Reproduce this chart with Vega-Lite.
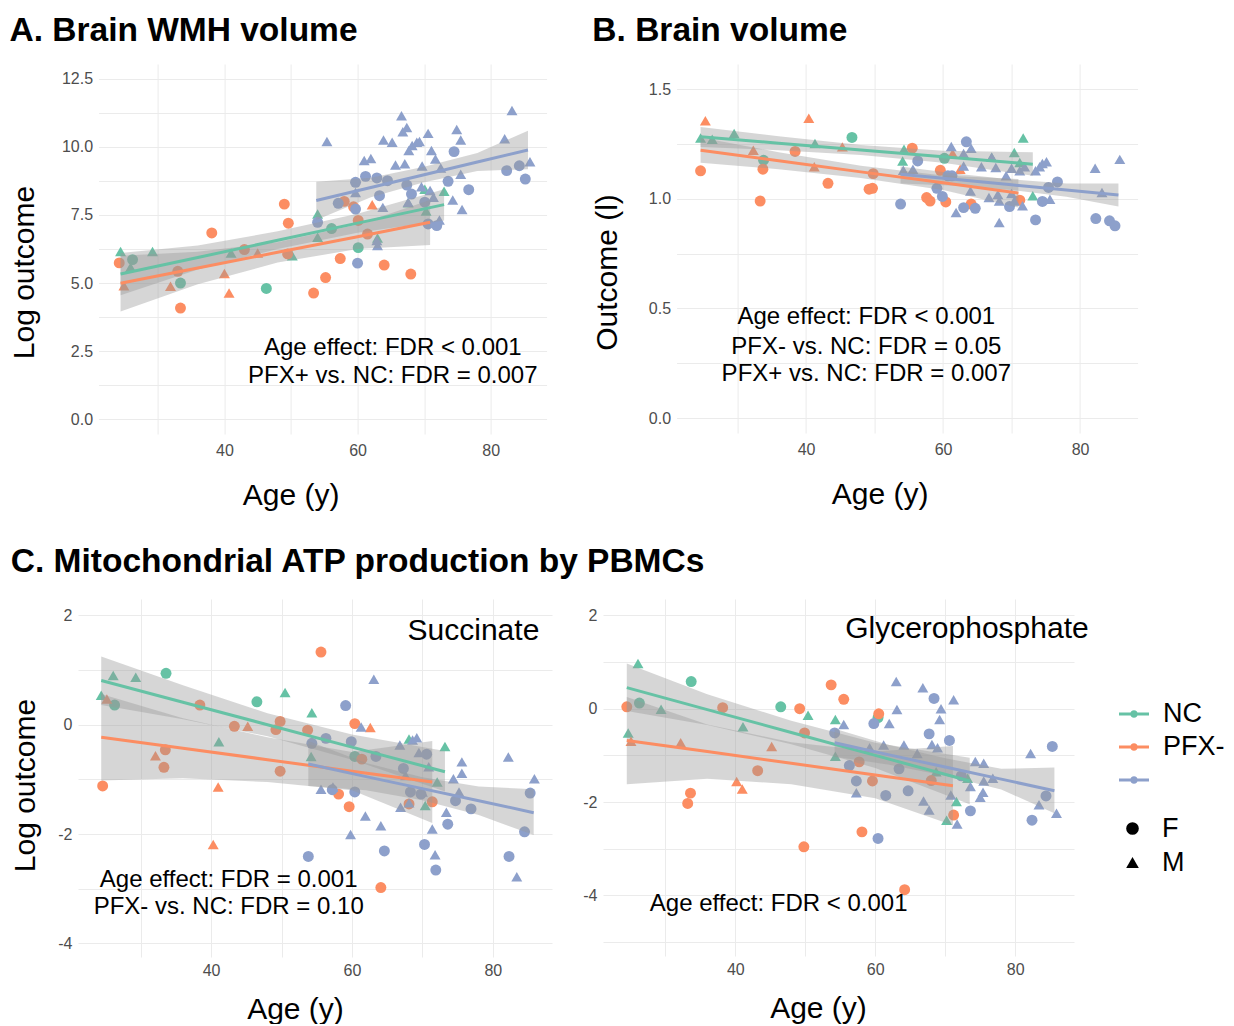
{
  "$schema": "https://vega.github.io/schema/vega-lite/v6.json",
  "background": "white",
  "padding": {"left": 9, "top": 13, "right": 0, "bottom": 0},
  "config": {
    "font": "Liberation Sans",
    "view": {"stroke": null},
    "axis": {"grid": true, "gridColor": "#EBEBEB", "gridWidth": 1, "domain": false, "ticks": false, "labelColor": "#4D4D4D", "labelFontSize": 16, "labelFont": "Liberation Sans", "titleFont": "Liberation Sans", "titleFontSize": 30, "titleFontWeight": "normal", "titleColor": "black", "labelOverlap": false},
    "axisX": {"labelPadding": 8, "titlePadding": 22},
    "axisY": {"labelPadding": 6, "titlePadding": 22},
    "title": {"font": "Liberation Sans", "fontSize": 33.5, "fontWeight": "bold", "anchor": "start", "frame": "bounds", "color": "black"},
    "legend": {"padding": 0, "labelFont": "Liberation Sans"}
  },
  "datasets": {
    "A_p": [
      {"group":"NC","sex":"M","age":24.4,"v":6.16},{"group":"NC","sex":"F","age":26.2,"v":5.86},{"group":"NC","sex":"M","age":25.9,"v":5.58},{"group":"NC","sex":"M","age":29.2,"v":6.16},{"group":"NC","sex":"F","age":33.4,"v":5.0},{"group":"NC","sex":"M","age":41.0,"v":6.1},{"group":"NC","sex":"F","age":46.3,"v":4.8},{"group":"NC","sex":"M","age":50.2,"v":6.0},{"group":"NC","sex":"M","age":54.0,"v":6.68},{"group":"NC","sex":"M","age":54.0,"v":7.54},{"group":"NC","sex":"F","age":56.1,"v":7.0},{"group":"NC","sex":"F","age":60.1,"v":6.3},{"group":"NC","sex":"M","age":63.0,"v":6.65},{"group":"NC","sex":"M","age":67.6,"v":7.95},{"group":"NC","sex":"M","age":70.1,"v":8.45},{"group":"NC","sex":"M","age":70.3,"v":7.65},{"group":"NC","sex":"M","age":73.0,"v":8.37},
      {"group":"PFX-","sex":"F","age":24.2,"v":5.74},{"group":"PFX-","sex":"M","age":24.9,"v":4.9},{"group":"PFX-","sex":"M","age":31.9,"v":4.88},{"group":"PFX-","sex":"F","age":33.0,"v":5.43},{"group":"PFX-","sex":"F","age":33.4,"v":4.08},{"group":"PFX-","sex":"F","age":38.1,"v":6.84},{"group":"PFX-","sex":"M","age":40.0,"v":5.35},{"group":"PFX-","sex":"M","age":40.7,"v":4.63},{"group":"PFX-","sex":"F","age":43.0,"v":6.23},{"group":"PFX-","sex":"M","age":45.0,"v":6.1},{"group":"PFX-","sex":"F","age":49.0,"v":7.9},{"group":"PFX-","sex":"F","age":49.6,"v":7.2},{"group":"PFX-","sex":"F","age":49.5,"v":6.07},{"group":"PFX-","sex":"F","age":53.4,"v":4.63},{"group":"PFX-","sex":"F","age":55.2,"v":5.2},{"group":"PFX-","sex":"F","age":57.4,"v":5.9},{"group":"PFX-","sex":"F","age":58.0,"v":8.0},{"group":"PFX-","sex":"F","age":59.4,"v":7.8},{"group":"PFX-","sex":"F","age":60.1,"v":7.3},{"group":"PFX-","sex":"F","age":61.5,"v":6.8},{"group":"PFX-","sex":"M","age":62.2,"v":7.88},{"group":"PFX-","sex":"F","age":64.0,"v":5.66},{"group":"PFX-","sex":"F","age":68.0,"v":5.33},
      {"group":"PFX+","sex":"M","age":55.4,"v":10.2},{"group":"PFX+","sex":"M","age":61.0,"v":9.5},{"group":"PFX+","sex":"M","age":62.0,"v":9.58},{"group":"PFX+","sex":"M","age":63.9,"v":10.26},{"group":"PFX+","sex":"M","age":65.2,"v":10.17},{"group":"PFX+","sex":"M","age":65.7,"v":9.34},{"group":"PFX+","sex":"M","age":66.6,"v":11.15},{"group":"PFX+","sex":"M","age":66.8,"v":10.56},{"group":"PFX+","sex":"M","age":67.4,"v":10.72},{"group":"PFX+","sex":"M","age":67.1,"v":9.38},{"group":"PFX+","sex":"M","age":67.7,"v":9.87},{"group":"PFX+","sex":"M","age":68.2,"v":10.05},{"group":"PFX+","sex":"M","age":68.9,"v":10.17},{"group":"PFX+","sex":"M","age":69.3,"v":10.2},{"group":"PFX+","sex":"M","age":69.7,"v":9.3},{"group":"PFX+","sex":"M","age":70.6,"v":10.5},{"group":"PFX+","sex":"M","age":71.1,"v":9.87},{"group":"PFX+","sex":"M","age":71.7,"v":9.56},{"group":"PFX+","sex":"M","age":72.5,"v":9.23},{"group":"PFX+","sex":"M","age":74.9,"v":10.64},{"group":"PFX+","sex":"M","age":75.5,"v":10.26},{"group":"PFX+","sex":"M","age":75.5,"v":9.0},{"group":"PFX+","sex":"M","age":75.7,"v":7.7},{"group":"PFX+","sex":"M","age":74.3,"v":8.05},{"group":"PFX+","sex":"M","age":70.9,"v":8.4},{"group":"PFX+","sex":"M","age":71.4,"v":8.15},{"group":"PFX+","sex":"M","age":83.2,"v":11.34},{"group":"PFX+","sex":"M","age":82.1,"v":10.3},{"group":"PFX+","sex":"M","age":85.9,"v":9.46},{"group":"PFX+","sex":"M","age":59.7,"v":8.33},{"group":"PFX+","sex":"M","age":62.9,"v":6.56},{"group":"PFX+","sex":"M","age":63.0,"v":6.38},{"group":"PFX+","sex":"M","age":63.8,"v":7.78},{"group":"PFX+","sex":"M","age":67.6,"v":7.97},{"group":"PFX+","sex":"M","age":69.6,"v":8.54},{"group":"PFX+","sex":"M","age":72.3,"v":7.32},
      {"group":"PFX+","sex":"F","age":59.7,"v":8.7},{"group":"PFX+","sex":"F","age":61.2,"v":8.92},{"group":"PFX+","sex":"F","age":62.9,"v":8.86},{"group":"PFX+","sex":"F","age":64.5,"v":8.76},{"group":"PFX+","sex":"F","age":63.3,"v":8.21},{"group":"PFX+","sex":"F","age":57.1,"v":7.93},{"group":"PFX+","sex":"F","age":59.7,"v":7.72},{"group":"PFX+","sex":"F","age":54.0,"v":7.23},{"group":"PFX+","sex":"F","age":60.0,"v":5.73},{"group":"PFX+","sex":"F","age":67.4,"v":8.6},{"group":"PFX+","sex":"F","age":68.1,"v":8.27},{"group":"PFX+","sex":"F","age":70.1,"v":7.97},{"group":"PFX+","sex":"F","age":70.6,"v":7.17},{"group":"PFX+","sex":"F","age":71.9,"v":7.11},{"group":"PFX+","sex":"F","age":73.6,"v":8.74},{"group":"PFX+","sex":"F","age":74.5,"v":9.83},{"group":"PFX+","sex":"F","age":76.7,"v":8.43},{"group":"PFX+","sex":"F","age":82.4,"v":9.13},{"group":"PFX+","sex":"F","age":84.3,"v":9.31},{"group":"PFX+","sex":"F","age":85.2,"v":8.82}
    ],
    "A_f": [
      {"group":"NC","age":24.4,"v":5.33,"lo":4.55,"hi":6.1},{"group":"NC","age":36,"v":5.94,"lo":5.5,"hi":6.38},{"group":"NC","age":48,"v":6.57,"lo":6.25,"hi":6.9},{"group":"NC","age":60,"v":7.2,"lo":6.85,"hi":7.55},{"group":"NC","age":73,"v":7.88,"lo":7.3,"hi":8.45},
      {"group":"PFX-","age":24.4,"v":4.99,"lo":3.95,"hi":6.0},{"group":"PFX-","age":36,"v":5.55,"lo":4.95,"hi":6.15},{"group":"PFX-","age":48,"v":6.13,"lo":5.75,"hi":6.5},{"group":"PFX-","age":60,"v":6.7,"lo":6.25,"hi":7.15},{"group":"PFX-","age":70.9,"v":7.23,"lo":6.4,"hi":8.05},
      {"group":"PFX+","age":53.8,"v":8.03,"lo":7.32,"hi":8.72},{"group":"PFX+","age":62,"v":8.51,"lo":8.15,"hi":8.87},{"group":"PFX+","age":70,"v":8.98,"lo":8.7,"hi":9.27},{"group":"PFX+","age":78,"v":9.45,"lo":9.12,"hi":9.78},{"group":"PFX+","age":85.6,"v":9.89,"lo":9.18,"hi":10.6}
    ],
    "A_t": [
      {"age":65.3,"v":2.62,"label":"Age effect: FDR < 0.001"},
      {"age":65.3,"v":1.6,"label":"PFX+ vs. NC: FDR = 0.007"}
    ],
    "B_p": [
      {"group":"NC","sex":"M","age":24.6,"v":1.277},{"group":"NC","sex":"M","age":26.3,"v":1.272},{"group":"NC","sex":"M","age":29.5,"v":1.298},{"group":"NC","sex":"F","age":46.7,"v":1.28},{"group":"NC","sex":"M","age":41.3,"v":1.252},{"group":"NC","sex":"M","age":54.3,"v":1.226},{"group":"NC","sex":"M","age":54.1,"v":1.173},{"group":"NC","sex":"F","age":60.2,"v":1.185},{"group":"NC","sex":"M","age":71.7,"v":1.277},{"group":"NC","sex":"M","age":70.4,"v":1.211},{"group":"NC","sex":"M","age":71.2,"v":1.166},{"group":"NC","sex":"M","age":73.1,"v":1.014},{"group":"NC","sex":"F","age":33.8,"v":1.176},{"group":"NC","sex":"M","age":67.1,"v":1.19},
      {"group":"PFX-","sex":"M","age":25.3,"v":1.356},{"group":"PFX-","sex":"F","age":24.6,"v":1.128},{"group":"PFX-","sex":"M","age":32.3,"v":1.222},{"group":"PFX-","sex":"F","age":33.7,"v":1.135},{"group":"PFX-","sex":"F","age":33.3,"v":0.99},{"group":"PFX-","sex":"F","age":38.4,"v":1.216},{"group":"PFX-","sex":"M","age":40.4,"v":1.368},{"group":"PFX-","sex":"M","age":41.2,"v":1.146},{"group":"PFX-","sex":"F","age":43.2,"v":1.071},{"group":"PFX-","sex":"M","age":45.3,"v":1.237},{"group":"PFX-","sex":"F","age":49.2,"v":1.044},{"group":"PFX-","sex":"F","age":49.7,"v":1.048},{"group":"PFX-","sex":"F","age":49.8,"v":1.115},{"group":"PFX-","sex":"F","age":55.5,"v":1.231},{"group":"PFX-","sex":"F","age":57.6,"v":1.006},{"group":"PFX-","sex":"F","age":58.1,"v":0.99},{"group":"PFX-","sex":"F","age":59.6,"v":1.13},{"group":"PFX-","sex":"F","age":60.4,"v":0.986},{"group":"PFX-","sex":"M","age":61.4,"v":1.207},{"group":"PFX-","sex":"M","age":62.5,"v":1.135},{"group":"PFX-","sex":"F","age":64.1,"v":0.976},{"group":"PFX-","sex":"F","age":71.2,"v":0.994},
      {"group":"PFX+","sex":"M","age":61.2,"v":1.239},{"group":"PFX+","sex":"M","age":61.9,"v":0.938},{"group":"PFX+","sex":"M","age":63.0,"v":1.207},{"group":"PFX+","sex":"M","age":64.1,"v":1.231},{"group":"PFX+","sex":"M","age":63.0,"v":1.15},{"group":"PFX+","sex":"M","age":64.0,"v":1.036},{"group":"PFX+","sex":"M","age":65.6,"v":1.146},{"group":"PFX+","sex":"M","age":67.1,"v":1.19},{"group":"PFX+","sex":"M","age":66.7,"v":1.006},{"group":"PFX+","sex":"M","age":67.7,"v":1.143},{"group":"PFX+","sex":"M","age":68.2,"v":0.892},{"group":"PFX+","sex":"M","age":68.2,"v":0.99},{"group":"PFX+","sex":"M","age":68.0,"v":1.02},{"group":"PFX+","sex":"M","age":69.2,"v":1.105},{"group":"PFX+","sex":"M","age":70.0,"v":1.024},{"group":"PFX+","sex":"M","age":70.0,"v":1.14},{"group":"PFX+","sex":"M","age":70.4,"v":0.99},{"group":"PFX+","sex":"M","age":71.2,"v":1.128},{"group":"PFX+","sex":"M","age":71.6,"v":0.968},{"group":"PFX+","sex":"M","age":71.9,"v":1.146},{"group":"PFX+","sex":"M","age":73.5,"v":1.128},{"group":"PFX+","sex":"M","age":74.1,"v":1.146},{"group":"PFX+","sex":"M","age":74.5,"v":1.161},{"group":"PFX+","sex":"M","age":75.1,"v":1.169},{"group":"PFX+","sex":"M","age":75.6,"v":0.998},{"group":"PFX+","sex":"M","age":82.2,"v":1.14},{"group":"PFX+","sex":"M","age":83.2,"v":1.029},{"group":"PFX+","sex":"M","age":85.8,"v":1.18},{"group":"PFX+","sex":"M","age":54.2,"v":1.13},{"group":"PFX+","sex":"M","age":55.6,"v":1.135},
      {"group":"PFX+","sex":"F","age":53.8,"v":0.976},{"group":"PFX+","sex":"F","age":56.3,"v":1.173},{"group":"PFX+","sex":"F","age":59.1,"v":1.048},{"group":"PFX+","sex":"F","age":59.9,"v":1.011},{"group":"PFX+","sex":"F","age":60.7,"v":1.105},{"group":"PFX+","sex":"F","age":61.3,"v":1.105},{"group":"PFX+","sex":"F","age":63.0,"v":0.96},{"group":"PFX+","sex":"F","age":63.4,"v":1.26},{"group":"PFX+","sex":"F","age":64.7,"v":0.957},{"group":"PFX+","sex":"F","age":69.7,"v":0.965},{"group":"PFX+","sex":"F","age":73.5,"v":0.904},{"group":"PFX+","sex":"F","age":74.5,"v":0.988},{"group":"PFX+","sex":"F","age":75.4,"v":1.052},{"group":"PFX+","sex":"F","age":76.7,"v":1.077},{"group":"PFX+","sex":"F","age":82.3,"v":0.91},{"group":"PFX+","sex":"F","age":84.3,"v":0.9},{"group":"PFX+","sex":"F","age":85.1,"v":0.877}
    ],
    "B_f": [
      {"group":"NC","age":24.6,"v":1.283,"lo":1.237,"hi":1.328},{"group":"NC","age":36,"v":1.254,"lo":1.222,"hi":1.286},{"group":"NC","age":48,"v":1.223,"lo":1.2,"hi":1.246},{"group":"NC","age":60,"v":1.192,"lo":1.165,"hi":1.219},{"group":"NC","age":73.1,"v":1.158,"lo":1.105,"hi":1.212},
      {"group":"PFX-","age":24.6,"v":1.222,"lo":1.165,"hi":1.28},{"group":"PFX-","age":36,"v":1.174,"lo":1.135,"hi":1.213},{"group":"PFX-","age":48,"v":1.123,"lo":1.095,"hi":1.151},{"group":"PFX-","age":60,"v":1.073,"lo":1.04,"hi":1.106},{"group":"PFX-","age":71,"v":1.026,"lo":0.96,"hi":1.09},
      {"group":"PFX+","age":53.8,"v":1.112,"lo":1.07,"hi":1.148},{"group":"PFX+","age":62,"v":1.088,"lo":1.06,"hi":1.115},{"group":"PFX+","age":70,"v":1.064,"lo":1.04,"hi":1.088},{"group":"PFX+","age":78,"v":1.04,"lo":1.01,"hi":1.07},{"group":"PFX+","age":85.6,"v":1.018,"lo":0.965,"hi":1.07}
    ],
    "B_t": [
      {"age":48.8,"v":0.459,"label":"Age effect: FDR < 0.001"},
      {"age":48.8,"v":0.326,"label":"PFX- vs. NC: FDR = 0.05"},
      {"age":48.8,"v":0.2,"label":"PFX+ vs. NC: FDR = 0.007"}
    ],
    "C1_p": [
      {"group":"NC","sex":"M","age":24.4,"v":0.54},{"group":"NC","sex":"M","age":26.1,"v":0.9},{"group":"NC","sex":"F","age":26.3,"v":0.36},{"group":"NC","sex":"M","age":29.3,"v":0.87},{"group":"NC","sex":"F","age":33.6,"v":0.94},{"group":"NC","sex":"F","age":46.5,"v":0.42},{"group":"NC","sex":"M","age":50.5,"v":0.59},{"group":"NC","sex":"M","age":54.3,"v":0.22},{"group":"NC","sex":"M","age":41.1,"v":-0.31},{"group":"NC","sex":"M","age":54.2,"v":-0.58},{"group":"NC","sex":"M","age":68.1,"v":-0.26},{"group":"NC","sex":"M","age":73.2,"v":-0.4},{"group":"NC","sex":"M","age":70.4,"v":-1.48},{"group":"NC","sex":"M","age":72.1,"v":-1.05},{"group":"NC","sex":"F","age":60.4,"v":-0.58},
      {"group":"PFX-","sex":"M","age":25.2,"v":0.47},{"group":"PFX-","sex":"F","age":24.6,"v":-1.12},{"group":"PFX-","sex":"M","age":32.1,"v":-0.57},{"group":"PFX-","sex":"F","age":33.5,"v":-0.46},{"group":"PFX-","sex":"F","age":33.3,"v":-0.78},{"group":"PFX-","sex":"F","age":38.4,"v":0.36},{"group":"PFX-","sex":"M","age":40.3,"v":-2.19},{"group":"PFX-","sex":"M","age":41.0,"v":-1.14},{"group":"PFX-","sex":"F","age":43.3,"v":-0.03},{"group":"PFX-","sex":"M","age":45.2,"v":-0.03},{"group":"PFX-","sex":"F","age":49.2,"v":-0.09},{"group":"PFX-","sex":"F","age":49.8,"v":0.06},{"group":"PFX-","sex":"F","age":49.8,"v":-0.85},{"group":"PFX-","sex":"F","age":53.7,"v":-0.1},{"group":"PFX-","sex":"F","age":55.6,"v":1.33},{"group":"PFX-","sex":"F","age":60.4,"v":0.02},{"group":"PFX-","sex":"M","age":62.6,"v":-0.05},{"group":"PFX-","sex":"F","age":61.4,"v":-0.63},{"group":"PFX-","sex":"F","age":58.1,"v":-1.27},{"group":"PFX-","sex":"F","age":59.6,"v":-1.5},{"group":"PFX-","sex":"F","age":64.1,"v":-2.98},{"group":"PFX-","sex":"F","age":68.1,"v":-1.45},{"group":"PFX-","sex":"F","age":71.4,"v":-1.41},
      {"group":"PFX+","sex":"M","age":63.1,"v":0.83},{"group":"PFX+","sex":"M","age":61.3,"v":-0.04},{"group":"PFX+","sex":"M","age":55.6,"v":-1.18},{"group":"PFX+","sex":"M","age":57.3,"v":-1.14},{"group":"PFX+","sex":"M","age":59.8,"v":-2.01},{"group":"PFX+","sex":"M","age":61.9,"v":-1.67},{"group":"PFX+","sex":"M","age":64.1,"v":-1.85},{"group":"PFX+","sex":"M","age":66.8,"v":-0.37},{"group":"PFX+","sex":"M","age":67.6,"v":-0.93},{"group":"PFX+","sex":"M","age":68.6,"v":-0.28},{"group":"PFX+","sex":"M","age":69.2,"v":-0.24},{"group":"PFX+","sex":"M","age":69.5,"v":-0.51},{"group":"PFX+","sex":"M","age":70.0,"v":-1.23},{"group":"PFX+","sex":"M","age":66.9,"v":-1.51},{"group":"PFX+","sex":"M","age":68.1,"v":-1.43},{"group":"PFX+","sex":"M","age":71.4,"v":-1.91},{"group":"PFX+","sex":"M","age":71.8,"v":-2.38},{"group":"PFX+","sex":"M","age":74.4,"v":-0.99},{"group":"PFX+","sex":"M","age":75.2,"v":-1.23},{"group":"PFX+","sex":"M","age":75.6,"v":-0.68},{"group":"PFX+","sex":"M","age":75.6,"v":-0.89},{"group":"PFX+","sex":"M","age":73.4,"v":-1.6},{"group":"PFX+","sex":"M","age":82.2,"v":-0.59},{"group":"PFX+","sex":"M","age":83.4,"v":-2.78},{"group":"PFX+","sex":"M","age":85.9,"v":-0.99},{"group":"PFX+","sex":"M","age":70.9,"v":-0.77},
      {"group":"PFX+","sex":"F","age":59.1,"v":0.35},{"group":"PFX+","sex":"F","age":54.3,"v":-0.34},{"group":"PFX+","sex":"F","age":56.3,"v":-0.25},{"group":"PFX+","sex":"F","age":59.9,"v":-0.31},{"group":"PFX+","sex":"F","age":53.8,"v":-2.41},{"group":"PFX+","sex":"F","age":57.2,"v":-1.19},{"group":"PFX+","sex":"F","age":60.4,"v":-1.23},{"group":"PFX+","sex":"F","age":64.6,"v":-2.31},{"group":"PFX+","sex":"F","age":63.4,"v":-0.58},{"group":"PFX+","sex":"F","age":67.3,"v":-0.8},{"group":"PFX+","sex":"F","age":68.3,"v":-1.23},{"group":"PFX+","sex":"F","age":70.3,"v":-2.19},{"group":"PFX+","sex":"F","age":70.6,"v":-0.54},{"group":"PFX+","sex":"F","age":69.8,"v":-1.27},{"group":"PFX+","sex":"F","age":71.9,"v":-2.66},{"group":"PFX+","sex":"F","age":73.6,"v":-1.82},{"group":"PFX+","sex":"F","age":74.7,"v":-1.39},{"group":"PFX+","sex":"F","age":76.9,"v":-1.54},{"group":"PFX+","sex":"F","age":82.3,"v":-2.41},{"group":"PFX+","sex":"F","age":84.5,"v":-1.96},{"group":"PFX+","sex":"F","age":85.3,"v":-1.25}
    ],
    "C1_f": [
      {"group":"NC","age":24.4,"v":0.81,"lo":0.36,"hi":1.25},{"group":"NC","age":36,"v":0.41,"lo":0.1,"hi":0.72},{"group":"NC","age":48,"v":0.0,"lo":-0.21,"hi":0.21},{"group":"NC","age":60,"v":-0.41,"lo":-0.64,"hi":-0.18},{"group":"NC","age":73.2,"v":-0.86,"lo":-1.22,"hi":-0.48},
      {"group":"PFX-","age":24.4,"v":-0.23,"lo":-1.02,"hi":0.56},{"group":"PFX-","age":36,"v":-0.43,"lo":-0.98,"hi":0.12},{"group":"PFX-","age":48,"v":-0.64,"lo":-1.05,"hi":-0.23},{"group":"PFX-","age":60,"v":-0.85,"lo":-1.2,"hi":-0.5},{"group":"PFX-","age":71.4,"v":-1.05,"lo":-1.8,"hi":-0.3},
      {"group":"PFX+","age":53.8,"v":-0.72,"lo":-1.12,"hi":-0.3},{"group":"PFX+","age":62,"v":-0.95,"lo":-1.2,"hi":-0.7},{"group":"PFX+","age":70,"v":-1.17,"lo":-1.38,"hi":-0.96},{"group":"PFX+","age":78,"v":-1.39,"lo":-1.65,"hi":-1.13},{"group":"PFX+","age":85.8,"v":-1.61,"lo":-2.02,"hi":-1.18}
    ],
    "C1_t": [
      {"age":42.5,"v":-2.85,"label":"Age effect: FDR = 0.001"},
      {"age":42.5,"v":-3.34,"label":"PFX- vs. NC: FDR = 0.10"}
    ],
    "C1_h": [
      {"age":86.6,"v":1.72,"label":"Succinate"}
    ],
    "C2_p": [
      {"group":"NC","sex":"M","age":24.7,"v":-0.52},{"group":"NC","sex":"M","age":26.1,"v":0.97},{"group":"NC","sex":"F","age":26.3,"v":0.12},{"group":"NC","sex":"M","age":29.4,"v":-0.01},{"group":"NC","sex":"F","age":33.7,"v":0.58},{"group":"NC","sex":"M","age":41.1,"v":-0.39},{"group":"NC","sex":"F","age":46.5,"v":0.04},{"group":"NC","sex":"M","age":50.4,"v":-0.14},{"group":"NC","sex":"M","age":54.3,"v":-0.23},{"group":"NC","sex":"M","age":54.3,"v":-1.02},{"group":"NC","sex":"F","age":60.4,"v":-0.19},{"group":"NC","sex":"M","age":70.2,"v":-2.39},{"group":"NC","sex":"M","age":71.6,"v":-1.99},{"group":"NC","sex":"M","age":73.2,"v":-1.49},{"group":"NC","sex":"M","age":68.7,"v":-1.35},
      {"group":"PFX-","sex":"F","age":24.5,"v":0.04},{"group":"PFX-","sex":"M","age":25.1,"v":-0.7},{"group":"PFX-","sex":"M","age":32.2,"v":-0.73},{"group":"PFX-","sex":"F","age":33.6,"v":-1.81},{"group":"PFX-","sex":"F","age":33.2,"v":-2.03},{"group":"PFX-","sex":"F","age":38.2,"v":0.02},{"group":"PFX-","sex":"M","age":40.2,"v":-1.56},{"group":"PFX-","sex":"M","age":41.0,"v":-1.72},{"group":"PFX-","sex":"M","age":45.2,"v":-0.81},{"group":"PFX-","sex":"F","age":43.2,"v":-1.33},{"group":"PFX-","sex":"F","age":49.2,"v":0.0},{"group":"PFX-","sex":"F","age":49.9,"v":-0.52},{"group":"PFX-","sex":"F","age":49.8,"v":-2.96},{"group":"PFX-","sex":"F","age":53.7,"v":0.51},{"group":"PFX-","sex":"F","age":55.5,"v":0.2},{"group":"PFX-","sex":"F","age":57.7,"v":-1.14},{"group":"PFX-","sex":"F","age":58.1,"v":-2.64},{"group":"PFX-","sex":"F","age":59.6,"v":-1.55},{"group":"PFX-","sex":"F","age":60.5,"v":-0.11},{"group":"PFX-","sex":"F","age":64.2,"v":-3.88},{"group":"PFX-","sex":"F","age":68.0,"v":-1.54},{"group":"PFX-","sex":"F","age":71.2,"v":-2.28},
      {"group":"PFX+","sex":"M","age":63.0,"v":0.58},{"group":"PFX+","sex":"M","age":66.8,"v":0.45},{"group":"PFX+","sex":"M","age":71.2,"v":0.19},{"group":"PFX+","sex":"M","age":63.1,"v":-0.02},{"group":"PFX+","sex":"M","age":62.0,"v":-0.32},{"group":"PFX+","sex":"M","age":55.5,"v":-0.34},{"group":"PFX+","sex":"M","age":69.4,"v":0.0},{"group":"PFX+","sex":"M","age":69.2,"v":-0.23},{"group":"PFX+","sex":"M","age":61.2,"v":-0.78},{"group":"PFX+","sex":"M","age":64.1,"v":-0.78},{"group":"PFX+","sex":"M","age":66.0,"v":-0.96},{"group":"PFX+","sex":"M","age":68.1,"v":-0.77},{"group":"PFX+","sex":"M","age":68.9,"v":-0.84},{"group":"PFX+","sex":"M","age":59.2,"v":-0.84},{"group":"PFX+","sex":"M","age":57.3,"v":-1.8},{"group":"PFX+","sex":"M","age":66.9,"v":-1.98},{"group":"PFX+","sex":"M","age":67.7,"v":-2.17},{"group":"PFX+","sex":"M","age":70.8,"v":-1.85},{"group":"PFX+","sex":"M","age":71.7,"v":-2.47},{"group":"PFX+","sex":"M","age":73.6,"v":-1.67},{"group":"PFX+","sex":"M","age":74.3,"v":-1.13},{"group":"PFX+","sex":"M","age":75.5,"v":-1.17},{"group":"PFX+","sex":"M","age":75.5,"v":-1.55},{"group":"PFX+","sex":"M","age":75.4,"v":-1.79},{"group":"PFX+","sex":"M","age":75.0,"v":-1.9},{"group":"PFX+","sex":"M","age":82.2,"v":-0.96},{"group":"PFX+","sex":"M","age":83.4,"v":-2.06},{"group":"PFX+","sex":"M","age":85.9,"v":-2.24},{"group":"PFX+","sex":"M","age":76.8,"v":-1.49},
      {"group":"PFX+","sex":"F","age":54.2,"v":-0.52},{"group":"PFX+","sex":"F","age":59.8,"v":-0.32},{"group":"PFX+","sex":"F","age":56.3,"v":-1.22},{"group":"PFX+","sex":"F","age":57.3,"v":-1.55},{"group":"PFX+","sex":"F","age":61.5,"v":-1.86},{"group":"PFX+","sex":"F","age":60.4,"v":-2.78},{"group":"PFX+","sex":"F","age":63.4,"v":-1.29},{"group":"PFX+","sex":"F","age":64.7,"v":-1.76},{"group":"PFX+","sex":"F","age":67.7,"v":-0.54},{"group":"PFX+","sex":"F","age":68.4,"v":0.22},{"group":"PFX+","sex":"F","age":70.6,"v":-0.68},{"group":"PFX+","sex":"F","age":73.6,"v":-2.19},{"group":"PFX+","sex":"F","age":82.4,"v":-2.39},{"group":"PFX+","sex":"F","age":84.4,"v":-1.87},{"group":"PFX+","sex":"F","age":85.3,"v":-0.81},{"group":"PFX+","sex":"F","age":72.3,"v":-1.44}
    ],
    "C2_f": [
      {"group":"NC","age":24.5,"v":0.45,"lo":-0.05,"hi":0.97},{"group":"NC","age":36,"v":-0.02,"lo":-0.35,"hi":0.31},{"group":"NC","age":48,"v":-0.51,"lo":-0.76,"hi":-0.26},{"group":"NC","age":60,"v":-1.0,"lo":-1.27,"hi":-0.73},{"group":"NC","age":73.5,"v":-1.55,"lo":-2.05,"hi":-1.05},
      {"group":"PFX-","age":24.5,"v":-0.68,"lo":-1.62,"hi":0.25},{"group":"PFX-","age":36,"v":-0.92,"lo":-1.5,"hi":-0.34},{"group":"PFX-","age":48,"v":-1.17,"lo":-1.62,"hi":-0.72},{"group":"PFX-","age":60,"v":-1.42,"lo":-1.92,"hi":-0.92},{"group":"PFX-","age":71.1,"v":-1.65,"lo":-2.5,"hi":-0.8},
      {"group":"PFX+","age":54.2,"v":-0.73,"lo":-1.03,"hi":-0.43},{"group":"PFX+","age":62,"v":-0.99,"lo":-1.2,"hi":-0.78},{"group":"PFX+","age":70,"v":-1.25,"lo":-1.44,"hi":-1.06},{"group":"PFX+","age":78,"v":-1.51,"lo":-1.73,"hi":-1.29},{"group":"PFX+","age":85.6,"v":-1.76,"lo":-2.24,"hi":-1.26}
    ],
    "C2_t": [
      {"age":46.2,"v":-4.18,"label":"Age effect: FDR < 0.001"}
    ],
    "C2_h": [
      {"age":73.1,"v":1.71,"label":"Glycerophosphate"}
    ],
    "spacer": [{"label": ""}]
  },
  "concat": [
    {
      "hconcat": [
        {"width": 1, "height": 1, "data": {"name": "spacer"}, "mark": {"type": "text"}, "encoding": {"text": {"field": "label"}}},
        {
          "hconcat": [
            {
              "title": {"text": "A. Brain WMH volume", "offset": 16},
              "width": 448, "height": 370,
              "encoding": {
                "x": {"field": "age", "type": "quantitative", "scale": {"domain": [21.1, 88.4], "nice": false, "zero": false}, "axis": {"values": [30,40,50,60,70,80], "labelExpr": "datum.value % 20 == 0 ? datum.label : ''", "title": "Age (y)", "titleX": 192}},
                "y": {"field": "v", "type": "quantitative", "scale": {"domain": [-0.55, 13.05], "nice": false, "zero": false}, "axis": {"values": [0,1.25,2.5,3.75,5,6.25,7.5,8.75,10,11.25,12.5], "format": ".1f", "labelExpr": "datum.value % 2.5 == 0 ? datum.label : ''", "title": "Log outcome", "titleY": 208, "titlePadding": 22}}
              },
              "layer": [
                {"data": {"name": "A_p"}, "mark": {"type": "point", "filled": true, "opacity": 1, "size": 120},
                 "encoding": {
                   "color": {"field": "group", "type": "nominal", "scale": {"domain": ["NC","PFX-","PFX+"], "range": ["#66C2A5","#FC8D62","#8DA0CB"]}, "legend": {"orient": "none", "legendX": 1041, "legendY": 635, "title": null, "symbolType": "M-1,-0.1L1,-0.1L1,0.1L-1,0.1Z M-0.25,0 A0.25,0.25 0 1,1 0.25,0 A0.25,0.25 0 1,1 -0.25,0 Z", "symbolSize": 900, "symbolStrokeWidth": 0, "labelFontSize": 27, "labelColor": "black", "labelOffset": 14, "rowPadding": 5, "labelExpr": "datum.label == 'PFX+' ? '' : datum.label"}},
                   "shape": {"field": "sex", "type": "nominal", "scale": {"domain": ["F","M"], "range": ["circle","triangle-up"]}, "legend": {"orient": "none", "legendX": 1041, "legendY": 751, "title": null, "symbolSize": 160, "symbolFillColor": "black", "symbolStrokeColor": "black", "symbolStrokeWidth": 0, "labelFontSize": 27, "labelColor": "black", "labelOffset": 16, "rowPadding": 6}}}},
                {"data": {"name": "A_f"}, "mark": {"type": "area", "color": "#999999", "opacity": 0.4},
                 "encoding": {"y": {"field": "lo", "type": "quantitative", "scale": {"domain": [-0.55, 13.05], "nice": false, "zero": false}, "axis": {"values": [0,1.25,2.5,3.75,5,6.25,7.5,8.75,10,11.25,12.5], "format": ".1f", "labelExpr": "datum.value % 2.5 == 0 ? datum.label : ''", "title": "Log outcome", "titleY": 208, "titlePadding": 22}}, "y2": {"field": "hi"}, "detail": {"field": "group"}}},
                {"data": {"name": "A_f"}, "transform": [{"filter": "datum.group == 'NC'"}], "mark": {"type": "line", "strokeWidth": 3, "color": "#66C2A5"}, "encoding": {}},
                {"data": {"name": "A_f"}, "transform": [{"filter": "datum.group == 'PFX-'"}], "mark": {"type": "line", "strokeWidth": 3, "color": "#FC8D62"}, "encoding": {}},
                {"data": {"name": "A_f"}, "transform": [{"filter": "datum.group == 'PFX+'"}], "mark": {"type": "line", "strokeWidth": 3, "color": "#8DA0CB"}, "encoding": {}},
                {"data": {"name": "A_t"}, "mark": {"type": "text", "fontSize": 24, "font": "Liberation Sans", "color": "black", "align": "center", "baseline": "middle"},
                 "encoding": {"text": {"field": "label"}}}
              ]
            },
            {
              "title": {"text": "B. Brain volume", "offset": 16},
              "width": 461, "height": 369,
              "encoding": {
                "x": {"field": "age", "type": "quantitative", "scale": {"domain": [21.1, 88.4], "nice": false, "zero": false}, "axis": {"values": [30,40,50,60,70,80], "labelExpr": "datum.value % 20 == 0 ? datum.label : ''", "title": "Age (y)", "titleX": 203}},
                "y": {"field": "v", "type": "quantitative", "scale": {"domain": [-0.068, 1.615], "nice": false, "zero": false}, "axis": {"values": [0,0.25,0.5,0.75,1,1.25,1.5], "format": ".1f", "labelExpr": "datum.value % 0.5 == 0 ? datum.label : ''", "title": "Outcome (l)", "titleY": 208, "titlePadding": 26}}
              },
              "layer": [
                {"data": {"name": "B_p"}, "mark": {"type": "point", "filled": true, "opacity": 1, "size": 120},
                 "encoding": {
                   "color": {"field": "group", "type": "nominal", "scale": {"domain": ["NC","PFX-","PFX+"], "range": ["#66C2A5","#FC8D62","#8DA0CB"]}, "legend": {"orient": "none", "legendX": 1041, "legendY": 635, "title": null, "symbolType": "M-1,-0.1L1,-0.1L1,0.1L-1,0.1Z M-0.25,0 A0.25,0.25 0 1,1 0.25,0 A0.25,0.25 0 1,1 -0.25,0 Z", "symbolSize": 900, "symbolStrokeWidth": 0, "labelFontSize": 27, "labelColor": "black", "labelOffset": 14, "rowPadding": 5, "labelExpr": "datum.label == 'PFX+' ? '' : datum.label"}},
                   "shape": {"field": "sex", "type": "nominal", "scale": {"domain": ["F","M"], "range": ["circle","triangle-up"]}, "legend": {"orient": "none", "legendX": 1041, "legendY": 751, "title": null, "symbolSize": 160, "symbolFillColor": "black", "symbolStrokeColor": "black", "symbolStrokeWidth": 0, "labelFontSize": 27, "labelColor": "black", "labelOffset": 16, "rowPadding": 6}}}},
                {"data": {"name": "B_f"}, "mark": {"type": "area", "color": "#999999", "opacity": 0.4},
                 "encoding": {"y": {"field": "lo", "type": "quantitative", "scale": {"domain": [-0.068, 1.615], "nice": false, "zero": false}, "axis": {"values": [0,0.25,0.5,0.75,1,1.25,1.5], "format": ".1f", "labelExpr": "datum.value % 0.5 == 0 ? datum.label : ''", "title": "Outcome (l)", "titleY": 208, "titlePadding": 26}}, "y2": {"field": "hi"}, "detail": {"field": "group"}}},
                {"data": {"name": "B_f"}, "transform": [{"filter": "datum.group == 'NC'"}], "mark": {"type": "line", "strokeWidth": 3, "color": "#66C2A5"}, "encoding": {}},
                {"data": {"name": "B_f"}, "transform": [{"filter": "datum.group == 'PFX-'"}], "mark": {"type": "line", "strokeWidth": 3, "color": "#FC8D62"}, "encoding": {}},
                {"data": {"name": "B_f"}, "transform": [{"filter": "datum.group == 'PFX+'"}], "mark": {"type": "line", "strokeWidth": 3, "color": "#8DA0CB"}, "encoding": {}},
                {"data": {"name": "B_t"}, "mark": {"type": "text", "fontSize": 24, "font": "Liberation Sans", "color": "black", "align": "center", "baseline": "middle"},
                 "encoding": {"text": {"field": "label"}}}
              ]
            }
          ],
          "spacing": 45
        }
      ],
      "spacing": 19.6,
      "bounds": "flush"
    },
    {
      "title": {"text": "C. Mitochondrial ATP production by PBMCs", "offset": 20},
      "hconcat": [
        {
          "width": 474, "height": 358,
          "encoding": {
            "x": {"field": "age", "type": "quantitative", "scale": {"domain": [21.1, 88.4], "nice": false, "zero": false}, "axis": {"values": [30,40,50,60,70,80], "labelExpr": "datum.value % 20 == 0 ? datum.label : ''", "title": "Age (y)", "titleX": 217, "labelPadding": 5, "titlePadding": 16}},
            "y": {"field": "v", "type": "quantitative", "scale": {"domain": [-4.25, 2.3], "nice": false, "zero": false}, "axis": {"values": [-4,-3,-2,-1,0,1,2], "labelExpr": "datum.value % 2 == 0 ? '' + datum.value : ''", "title": "Log outcome", "titleY": 186, "titlePadding": 17}}
          },
          "layer": [
            {"data": {"name": "C1_p"}, "mark": {"type": "point", "filled": true, "opacity": 1, "size": 120},
             "encoding": {
               "color": {"field": "group", "type": "nominal", "scale": {"domain": ["NC","PFX-","PFX+"], "range": ["#66C2A5","#FC8D62","#8DA0CB"]}, "legend": {"orient": "none", "legendX": 1041, "legendY": 635, "title": null, "symbolType": "M-1,-0.1L1,-0.1L1,0.1L-1,0.1Z M-0.25,0 A0.25,0.25 0 1,1 0.25,0 A0.25,0.25 0 1,1 -0.25,0 Z", "symbolSize": 900, "symbolStrokeWidth": 0, "labelFontSize": 27, "labelColor": "black", "labelOffset": 14, "rowPadding": 5, "labelExpr": "datum.label == 'PFX+' ? '' : datum.label"}},
               "shape": {"field": "sex", "type": "nominal", "scale": {"domain": ["F","M"], "range": ["circle","triangle-up"]}, "legend": {"orient": "none", "legendX": 1041, "legendY": 751, "title": null, "symbolSize": 160, "symbolFillColor": "black", "symbolStrokeColor": "black", "symbolStrokeWidth": 0, "labelFontSize": 27, "labelColor": "black", "labelOffset": 16, "rowPadding": 6}}}},
            {"data": {"name": "C1_f"}, "mark": {"type": "area", "color": "#999999", "opacity": 0.4},
             "encoding": {"y": {"field": "lo", "type": "quantitative", "scale": {"domain": [-4.25, 2.3], "nice": false, "zero": false}, "axis": {"values": [-4,-3,-2,-1,0,1,2], "labelExpr": "datum.value % 2 == 0 ? '' + datum.value : ''", "title": "Log outcome", "titleY": 186, "titlePadding": 17}}, "y2": {"field": "hi"}, "detail": {"field": "group"}}},
            {"data": {"name": "C1_f"}, "transform": [{"filter": "datum.group == 'NC'"}], "mark": {"type": "line", "strokeWidth": 3, "color": "#66C2A5"}, "encoding": {}},
            {"data": {"name": "C1_f"}, "transform": [{"filter": "datum.group == 'PFX-'"}], "mark": {"type": "line", "strokeWidth": 3, "color": "#FC8D62"}, "encoding": {}},
            {"data": {"name": "C1_f"}, "transform": [{"filter": "datum.group == 'PFX+'"}], "mark": {"type": "line", "strokeWidth": 3, "color": "#8DA0CB"}, "encoding": {}},
            {"data": {"name": "C1_t"}, "mark": {"type": "text", "fontSize": 24, "font": "Liberation Sans", "color": "black", "align": "center", "baseline": "middle"},
             "encoding": {"text": {"field": "label"}}},
            {"data": {"name": "C1_h"}, "mark": {"type": "text", "fontSize": 30, "font": "Liberation Sans", "color": "black", "align": "right", "baseline": "middle"},
             "encoding": {"text": {"field": "label"}}}
          ]
        },
        {
          "width": 471, "height": 357,
          "encoding": {
            "x": {"field": "age", "type": "quantitative", "scale": {"domain": [21.1, 88.4], "nice": false, "zero": false}, "axis": {"values": [30,40,50,60,70,80], "labelExpr": "datum.value % 20 == 0 ? datum.label : ''", "title": "Age (y)", "titleX": 215, "labelPadding": 5, "titlePadding": 16}},
            "y": {"field": "v", "type": "quantitative", "scale": {"domain": [-5.3, 2.35], "nice": false, "zero": false}, "axis": {"values": [-5,-4,-3,-2,-1,0,1,2], "labelExpr": "datum.value % 2 == 0 ? '' + datum.value : ''", "title": null}}
          },
          "layer": [
            {"data": {"name": "C2_p"}, "mark": {"type": "point", "filled": true, "opacity": 1, "size": 120},
             "encoding": {
               "color": {"field": "group", "type": "nominal", "scale": {"domain": ["NC","PFX-","PFX+"], "range": ["#66C2A5","#FC8D62","#8DA0CB"]}, "legend": {"orient": "none", "legendX": 1041, "legendY": 635, "title": null, "symbolType": "M-1,-0.1L1,-0.1L1,0.1L-1,0.1Z M-0.25,0 A0.25,0.25 0 1,1 0.25,0 A0.25,0.25 0 1,1 -0.25,0 Z", "symbolSize": 900, "symbolStrokeWidth": 0, "labelFontSize": 27, "labelColor": "black", "labelOffset": 14, "rowPadding": 5, "labelExpr": "datum.label == 'PFX+' ? '' : datum.label"}},
               "shape": {"field": "sex", "type": "nominal", "scale": {"domain": ["F","M"], "range": ["circle","triangle-up"]}, "legend": {"orient": "none", "legendX": 1041, "legendY": 751, "title": null, "symbolSize": 160, "symbolFillColor": "black", "symbolStrokeColor": "black", "symbolStrokeWidth": 0, "labelFontSize": 27, "labelColor": "black", "labelOffset": 16, "rowPadding": 6}}}},
            {"data": {"name": "C2_f"}, "mark": {"type": "area", "color": "#999999", "opacity": 0.4},
             "encoding": {"y": {"field": "lo", "type": "quantitative", "scale": {"domain": [-5.3, 2.35], "nice": false, "zero": false}, "axis": {"values": [-5,-4,-3,-2,-1,0,1,2], "labelExpr": "datum.value % 2 == 0 ? '' + datum.value : ''", "title": null}}, "y2": {"field": "hi"}, "detail": {"field": "group"}}},
            {"data": {"name": "C2_f"}, "transform": [{"filter": "datum.group == 'NC'"}], "mark": {"type": "line", "strokeWidth": 3, "color": "#66C2A5"}, "encoding": {}},
            {"data": {"name": "C2_f"}, "transform": [{"filter": "datum.group == 'PFX-'"}], "mark": {"type": "line", "strokeWidth": 3, "color": "#FC8D62"}, "encoding": {}},
            {"data": {"name": "C2_f"}, "transform": [{"filter": "datum.group == 'PFX+'"}], "mark": {"type": "line", "strokeWidth": 3, "color": "#8DA0CB"}, "encoding": {}},
            {"data": {"name": "C2_t"}, "mark": {"type": "text", "fontSize": 24, "font": "Liberation Sans", "color": "black", "align": "center", "baseline": "middle"},
             "encoding": {"text": {"field": "label"}}},
            {"data": {"name": "C2_h"}, "mark": {"type": "text", "fontSize": 30, "font": "Liberation Sans", "color": "black", "align": "center", "baseline": "middle"},
             "encoding": {"text": {"field": "label"}}}
          ]
        }
      ],
      "spacing": 30
    }
  ],
  "columns": 1,
  "align": "none",
  "spacing": 34
}
